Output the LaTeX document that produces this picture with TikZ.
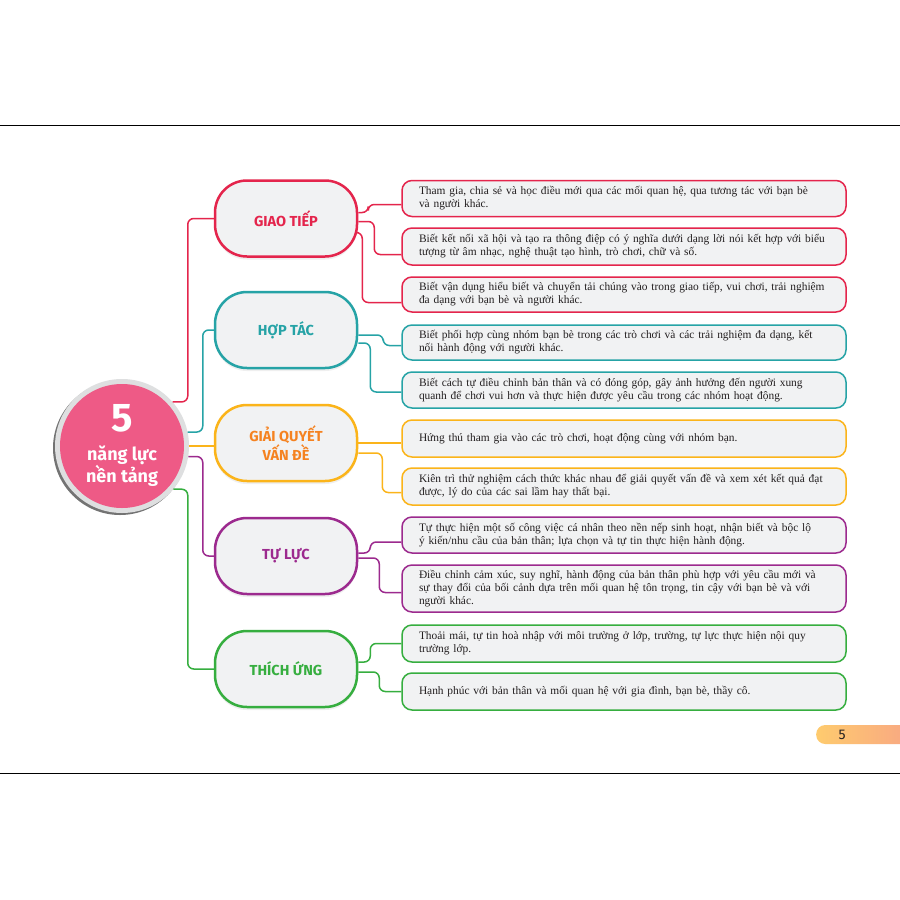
\documentclass[tikz,border=0pt]{standalone}
\usepackage{fontspec}
\setmainfont{Liberation Serif}
\newfontfamily\headfont{Fira Sans}
\usetikzlibrary{positioning,calc,shadows}

\definecolor{redc}{HTML}{E4254C}
\definecolor{tealc}{HTML}{26A3A6}
\definecolor{yellowc}{HTML}{FBB41A}
\definecolor{orangec}{HTML}{F58220}
\definecolor{purplec}{HTML}{9C2A8E}
\definecolor{greenc}{HTML}{36AE3F}
\definecolor{pinkc}{HTML}{EE5A86}
\definecolor{ringc}{HTML}{DEDFE0}
\definecolor{boxgrey}{HTML}{F1F2F3}
\definecolor{textc}{HTML}{231F20}
\definecolor{badgel}{HTML}{FECB6E}
\definecolor{badger}{HTML}{F8A584}

\begin{document}
\begin{tikzpicture}[x=1pt,y=-1pt]
    \tikzstyle{pill}=[draw,line width=2.5,rounded corners=32,fill=boxgrey,minimum width=142,minimum height=76,inner sep=0,align=center,font=\headfont\bfseries\fontsize{14.5}{19}\selectfont,drop shadow={shadow xshift=0pt,shadow yshift=-3pt,fill=black!12}]
    \tikzstyle{box}=[draw,line width=1.5,rounded corners=10,fill=boxgrey,text width=410,inner xsep=17,inner ysep=0,align=left,text=textc,font=\fontsize{11.4}{13}\selectfont]
    \tikzstyle{link}=[line width=1.5,rounded corners=6]
    \tikzstyle{hubtext}=[text=white,align=center,inner sep=0,font=\headfont\bfseries]
    {
        \useasboundingbox[fill=white] (0,0) rectangle (900,900);
        \draw[line width=1.3] (0,125.5) -- (900,125.5);
        \draw[line width=1.3] (0,773.5) -- (900,773.5);

        \node[circle,fill=black!55,minimum size=134,inner sep=0] (hubshadow) at (120,448) {};
        \node[circle,fill=ringc,minimum size=134,inner sep=0] (hub) at (122,446) {};
        \node[circle,fill=pinkc,minimum size=124,inner sep=0] (hubin) at (hub) {};
        \node[hubtext,font=\headfont\bfseries\fontsize{40}{40}\selectfont] (five) at (122,418) {5};
        \node[hubtext,font=\headfont\bfseries\fontsize{18}{22}\selectfont] (nlnt) at (122,466) {năng lực\\nền tảng};

        \node[pill,draw=redc,text=redc] (gt) at (286,218.5) {GIAO TIẾP};
        \node[pill,draw=tealc,text=tealc] (ht) at (286,330) {HỢP TÁC};
        \node[pill,draw=yellowc,text=orangec] (gq) at (286,443) {GIẢI QUYẾT\\VẤN ĐỀ};
        \node[pill,draw=purplec,text=purplec] (tl) at (286,556) {TỰ LỰC};
        \node[pill,draw=greenc,text=greenc] (tu) at (286,669) {THÍCH ỨNG};

        \node[box,draw=redc,minimum height=36] (r1) at (624,198.5) {Tham gia, chia sẻ và học điều mới qua các mối quan hệ, qua tương tác với bạn bè\\và người khác.};
        \node[box,draw=redc,minimum height=37] (r2) at (624,246.5) {Biết kết nối xã hội và tạo ra thông điệp có ý nghĩa dưới dạng lời nói kết hợp với biểu\\tượng từ âm nhạc, nghệ thuật tạo hình, trò chơi, chữ và số.};
        \node[box,draw=redc,minimum height=35] (r3) at (624,294.5) {Biết vận dụng hiểu biết và chuyển tải chúng vào trong giao tiếp, vui chơi, trải nghiệm\\đa dạng với bạn bè và người khác.};
        \node[box,draw=tealc,minimum height=35] (t1) at (624,342.5) {Biết phối hợp cùng nhóm bạn bè trong các trò chơi và các trải nghiệm đa dạng, kết\\nối hành động với người khác.};
        \node[box,draw=tealc,minimum height=36] (t2) at (624,390) {Biết cách tự điều chỉnh bản thân và có đóng góp, gây ảnh hưởng đến người xung\\quanh để chơi vui hơn và thực hiện được yêu cầu trong các nhóm hoạt động.};
        \node[box,draw=yellowc,minimum height=37] (o1) at (624,438.5) {Hứng thú tham gia vào các trò chơi, hoạt động cùng với nhóm bạn.};
        \node[box,draw=yellowc,minimum height=37] (o2) at (624,486.5) {Kiên trì thử nghiệm cách thức khác nhau để giải quyết vấn đề và xem xét kết quả đạt\\được, lý do của các sai lầm hay thất bại.};
        \node[box,draw=purplec,minimum height=36] (p1) at (624,535) {Tự thực hiện một số công việc cá nhân theo nền nếp sinh hoạt, nhận biết và bộc lộ\\ý kiến/nhu cầu của bản thân; lựa chọn và tự tin thực hiện hành động.};
        \node[box,draw=purplec,minimum height=47] (p2) at (624,588.5) {Điều chỉnh cảm xúc, suy nghĩ, hành động của bản thân phù hợp với yêu cầu mới và\\sự thay đổi của bối cảnh dựa trên mối quan hệ tôn trọng, tin cậy với bạn bè và với\\người khác.};
        \node[box,draw=greenc,minimum height=37] (g1) at (624,643.5) {Thoải mái, tự tin hoà nhập với môi trường ở lớp, trường, tự lực thực hiện nội quy\\trường lớp.};
        \node[box,draw=greenc,minimum height=37] (g2) at (624,691.5) {Hạnh phúc với bản thân và mối quan hệ với gia đình, bạn bè, thầy cô.};

        \draw[link,redc] (hub.41) -| ([xshift=-26pt]gt.west) -- (gt.west);
        \draw[link,tealc] (hub.12) -| ([xshift=-11pt]ht.west) -- (ht.west);
        \draw[link,yellowc] (hub.east) -- (hub.east -| gq.west);
        \draw[link,purplec] (hub.-9) -| ([xshift=-11pt]tl.west) -- (tl.west);
        \draw[link,greenc] (hub.-40) -| ([xshift=-26pt]tu.west) -- (tu.west);

        \draw[link,redc] ($(gt.east)+(0,-6)$) -| ($(r1.west)+(-33,6)$) -- ($(r1.west)+(0,6)$);
        \draw[link,redc] ($(gt.east)+(0,3)$) -| ($(r2.west)+(-27,8)$) -- ($(r2.west)+(0,8)$);
        \draw[link,redc] ($(gt.east)+(0,14)$) -| ($(r3.west)+(-39,8)$) -- ($(r3.west)+(0,8)$);
        \draw[link,tealc] ($(ht.east)+(0,5)$) -| ($(t1.west)+(-18,3)$) -- ($(t1.west)+(0,3)$);
        \draw[link,tealc] ($(ht.east)+(0,13)$) -| ($(t2.west)+(-31,2)$) -- ($(t2.west)+(0,2)$);
        \draw[link,yellowc] (gq.east) -- (gq.east -| o1.west);
        \draw[link,yellowc] ($(gq.east)+(0,10)$) -| ($(o2.west)+(-19,6)$) -- ($(o2.west)+(0,6)$);
        \draw[link,purplec] ($(tl.east)+(0,-3)$) -| ($(p1.west)+(-31,7)$) -- ($(p1.west)+(0,7)$);
        \draw[link,purplec] ($(tl.east)+(0,2)$) -| ($(p2.west)+(-22,4)$) -- ($(p2.west)+(0,4)$);
        \draw[link,greenc] ($(tu.east)+(0,-7)$) -| ($(g1.west)+(-31,0)$) -- (g1.west);
        \draw[link,greenc] ($(tu.east)+(0,3)$) -| ($(g2.west)+(-22,0)$) -- (g2.west);

        \node[left color=badgel,right color=badger,rounded corners=9,minimum width=100,minimum height=19,inner sep=0,anchor=west] (badge) at (816,734.5) {};
        \node[font=\headfont\fontsize{14}{14}\selectfont,text=textc] (pgnum) at (842,734.5) {5};
    }
\end{tikzpicture}
\end{document}
